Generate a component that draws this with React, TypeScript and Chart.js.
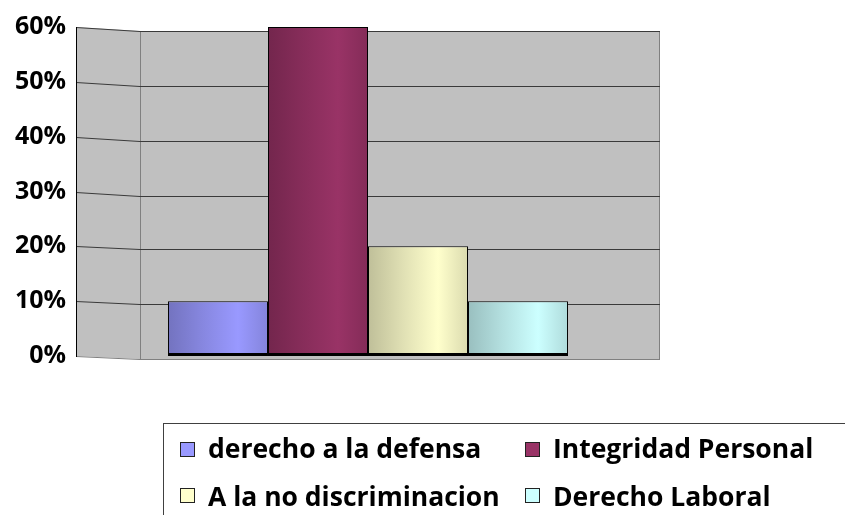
import React, { useEffect, useRef } from 'react';
import { Chart, registerables } from 'chart.js';

Chart.register(...registerables);

const categories = [''];
const seriesNames = ['derecho a la defensa', 'Integridad Personal', 'A la no discriminacion', 'Derecho Laboral'];
const seriesValues = [[0.1], [0.6], [0.2], [0.1]];
const seriesColors = ['#9999FF', '#993366', '#FFFFCC', '#CCFFFF'];
const yTickValues = [0, 0.1, 0.2, 0.3, 0.4, 0.5, 0.6];

const FONT = '"Open Sans"';

function shade(hex: string, f: number): string {
  const n = parseInt(hex.slice(1), 16);
  const r = Math.round(((n >> 16) & 255) * f);
  const g = Math.round(((n >> 8) & 255) * f);
  const b = Math.round((n & 255) * f);
  const c = (v: number) => Math.max(0, Math.min(255, v)).toString(16).padStart(2, '0');
  return '#' + c(r) + c(g) + c(b);
}

const wallPlugin = {
  id: 'wall',
  beforeDraw(chart: any) {
    const { ctx, chartArea } = chart;
    const ys = chart.scales.y;
    const left = chartArea.left;
    const right = chartArea.right;
    const corner = left + 64;
    const max = ys.max;
    const off = (v: number) => 3 + (v / max) * 1;
    const yTop = ys.getPixelForValue(max);
    const yBot = ys.getPixelForValue(0);
    ctx.save();
    ctx.fillStyle = '#c0c0c0';
    ctx.beginPath();
    ctx.moveTo(left, yTop);
    ctx.lineTo(corner, yTop + off(max));
    ctx.lineTo(right, yTop + off(max));
    ctx.lineTo(right, yBot + off(0));
    ctx.lineTo(corner, yBot + off(0));
    ctx.lineTo(left, yBot);
    ctx.closePath();
    ctx.fill();
    ctx.strokeStyle = '#808080';
    ctx.lineWidth = 1;
    ctx.beginPath();
    ctx.moveTo(corner + 0.5, yTop + off(max));
    ctx.lineTo(corner + 0.5, yBot + off(0));
    ctx.moveTo(right - 0.5, yTop + off(max));
    ctx.lineTo(right - 0.5, yBot + off(0));
    ctx.stroke();
    yTickValues.forEach((v) => {
      const y = Math.round(ys.getPixelForValue(v)) + 0.5;
      const o = Math.round(off(v));
      ctx.strokeStyle = v === 0 ? '#808080' : '#3a3a3a';
      ctx.beginPath();
      ctx.moveTo(left, y);
      ctx.lineTo(corner, y + o);
      ctx.lineTo(right, y + o);
      ctx.stroke();
    });
    ctx.restore();
  },
};

const gradientPlugin = {
  id: 'barGradient',
  beforeDatasetsDraw(chart: any) {
    const { ctx } = chart;
    chart.data.datasets.forEach((ds: any, i: number) => {
      const meta = chart.getDatasetMeta(i);
      const base = seriesColors[i];
      meta.data.forEach((el: any) => {
        const { x, width } = el.getProps(['x', 'width'], true);
        const g = ctx.createLinearGradient(x - width / 2, 0, x + width / 2, 0);
        g.addColorStop(0, shade(base, 0.75));
        g.addColorStop(0.35, shade(base, 0.88));
        g.addColorStop(0.7, base);
        g.addColorStop(1, shade(base, 0.86));
        el.options = { ...el.options, backgroundColor: g };
      });
    });
  },
};

const legendPlugin = {
  id: 'boxLegend',
  afterDraw(chart: any) {
    const { ctx } = chart;
    ctx.save();
    ctx.strokeStyle = '#404040';
    ctx.lineWidth = 1;
    ctx.strokeRect(163.5, 423.5, 800, 200);
    const colX = [180, 525];
    const rowBase = [458, 506];
    const rowSw = [442, 488];
    ctx.font = `bold 26.5px ${FONT}`;
    ctx.textBaseline = 'alphabetic';
    ctx.textAlign = 'left';
    chart.data.datasets.forEach((ds: any, i: number) => {
      const c = i % 2;
      const r = Math.floor(i / 2);
      ctx.fillStyle = seriesColors[i];
      ctx.fillRect(colX[c], rowSw[r], 15, 15);
      ctx.strokeStyle = '#222';
      ctx.strokeRect(colX[c] + 0.5, rowSw[r] + 0.5, 14, 14);
      ctx.fillStyle = '#000';
      ctx.fillText(ds.label, colX[c] + 28, rowBase[r]);
    });
    ctx.restore();
  },
};

export default function App() {
  const ref = useRef<HTMLCanvasElement | null>(null);
  useEffect(() => {
    if (!ref.current) return;
    const chart = new Chart(ref.current, {
      type: 'bar',
      data: {
        labels: categories,
        datasets: seriesNames.map((name, i) => ({
          label: name,
          data: seriesValues[i],
          backgroundColor: seriesColors[i],
          borderColor: '#000',
          borderWidth: { top: 1, left: 1, right: 1, bottom: 3 },
          borderSkipped: false,
          categoryPercentage: 0.685,
          barPercentage: 1,
        })),
      },
      options: {
        animation: false,
        responsive: true,
        maintainAspectRatio: false,
        layout: { padding: { top: 27, right: 185, bottom: 159, left: 0 } },
        plugins: { legend: { display: false }, tooltip: { enabled: false } },
        scales: {
          x: { display: false },
          y: {
            min: 0,
            max: 0.6,
            afterFit: (s: any) => { s.width = 76; },
            ticks: {
              stepSize: 0.1,
              padding: 10,
              color: '#000',
              font: { family: FONT, weight: 'bold', size: 25 },
              callback: (v: any) => Math.round(Number(v) * 100) + '%',
            },
            grid: { display: false, drawTicks: false },
            border: { display: true, color: '#000' },
          },
        },
      },
      plugins: [wallPlugin, gradientPlugin, legendPlugin],
    });
    return () => chart.destroy();
  }, []);
  return (
    <div style={{ position: 'fixed', left: 0, top: 0, width: 845, height: 515, background: '#fff' }}>
      <canvas ref={ref} />
    </div>
  );
}
